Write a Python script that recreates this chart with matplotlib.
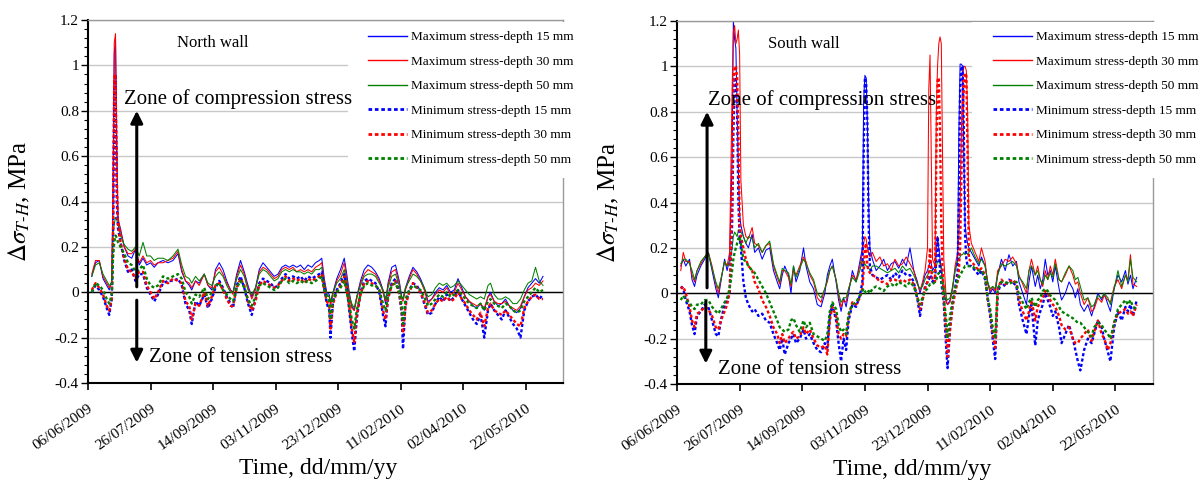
import numpy as np
import matplotlib
matplotlib.use('Agg')
import matplotlib.pyplot as plt
import matplotlib.dates as mdates
import matplotlib.transforms as mtransforms
from matplotlib.lines import Line2D
from matplotlib.patches import Rectangle

plt.rcParams['font.family'] = ['Liberation Serif', 'DejaVu Serif']
plt.rcParams['mathtext.fontset'] = 'stix'
plt.rcParams['axes.unicode_minus'] = False

# days counted from 06/06/2009
start_date = np.datetime64('2009-06-06')

# ---------------- North wall ----------------
north_day = [3, 6, 9, 12, 15, 17, 19, 20, 21, 22,
             23, 24, 26, 29, 32, 35, 38, 41, 44, 47,
             50, 53, 56, 60, 64, 68, 72, 75, 78, 81,
             83, 86, 89, 93, 96, 99, 102, 105, 108, 111,
             114, 116, 119, 122, 125, 128, 131, 134, 137, 140,
             143, 146, 149, 152, 155, 158, 161, 164, 167, 170,
             173, 176, 179, 182, 185, 187, 189, 191, 193, 194,
             196, 199, 202, 205, 207, 209, 211, 213, 215, 218,
             221, 224, 227, 230, 233, 236, 238, 240, 243, 246,
             249, 251, 252, 254, 257, 260, 263, 266, 269, 272,
             275, 278, 281, 284, 287, 290, 293, 296, 299, 302,
             305, 308, 311, 314, 317, 320, 322, 325, 328, 331,
             334, 337, 340, 343, 346, 349, 352, 355, 358, 361,
             364]
north_max15 = [.07, .13, .14, .06, .03, .01, .05, .40, 1.05, 1.11,
               .60, .32, .28, .20, .16, .15, .19, .12, .15, .12,
               .13, .11, .13, .14, .13, .14, .17, .09, .05, .03,
               .01, .05, .04, .08, .03, .01, .10, .13, .10, .05,
               .01, .00, .08, .14, .09, .03, -.02, .02, .10, .13,
               .11, .09, .07, .08, .11, .12, .11, .12, .11, .12,
               .10, .12, .11, .13, .14, .15, .06, .00, -.01, -.05,
               .00, .06, .10, .15, .08, .00, -.06, -.08, -.02, .05,
               .10, .12, .11, .09, .06, .01, -.05, .04, .11, .12,
               .05, -.02, -.03, .02, .07, .11, .09, .06, .02, -.04,
               -.03, .00, .02, .01, .03, .00, .01, .06, .02, -.02,
               -.04, -.06, -.07, -.05, -.08, -.02, .00, -.04, -.06, -.05,
               -.03, -.06, -.08, -.09, -.07, -.02, .02, .04, .06, .04,
               .07]
north_max30 = [.08, .14, .14, .07, .04, .02, .04, .45, 1.10, 1.14,
               .70, .33, .27, .20, .17, .17, .19, .13, .16, .13,
               .14, .12, .13, .13, .14, .15, .18, .10, .05, .04,
               .02, .05, .03, .08, .03, .02, .09, .11, .08, .04,
               .01, -.01, .07, .12, .08, .02, -.03, .01, .09, .11,
               .10, .08, .06, .07, .10, .11, .10, .11, .09, .10,
               .09, .10, .09, .11, .12, .13, .05, -.01, -.02, -.06,
               -.01, .05, .08, .13, .06, -.01, -.07, -.08, -.03, .04,
               .08, .10, .09, .08, .05, .00, -.04, .03, .09, .10,
               .04, -.03, -.04, .01, .06, .10, .08, .05, .01, -.05,
               -.03, -.01, .01, .00, .02, -.01, .00, .04, .01, -.02,
               -.04, -.05, -.06, -.05, -.07, -.02, -.01, -.04, -.05, -.05,
               -.04, -.06, -.07, -.08, -.06, -.02, .01, .02, .04, .03,
               .05]
north_max50 = [.07, .12, .13, .08, .05, .03, .04, .25, .30, .33,
               .32, .30, .25, .21, .19, .18, .20, .16, .22, .16,
               .16, .14, .15, .15, .14, .16, .19, .12, .07, .06,
               .04, .07, .05, .08, .04, .03, .07, .09, .07, .03,
               .00, .00, .06, .10, .07, .01, -.01, .02, .08, .10,
               .09, .07, .05, .06, .09, .10, .09, .10, .09, .09,
               .08, .09, .08, .10, .10, .11, .04, -.01, -.02, -.04,
               .00, .04, .06, .10, .05, -.02, -.05, -.07, -.02, .03,
               .07, .08, .08, .07, .04, .01, -.03, .02, .07, .08,
               .03, -.02, -.03, .02, .05, .08, .07, .05, .02, -.02,
               -.01, .02, .04, .03, .04, .02, .03, .05, .03, .01,
               -.01, -.02, -.03, -.02, -.03, .03, .04, -.01, -.03, -.03,
               -.02, -.03, -.05, -.05, -.03, .01, .04, .05, .11, .05,
               .03]
north_min15 = [.00, .03, .01, -.02, -.07, -.10, -.03, .20, .90, .96,
               .40, .28, .22, .14, .09, .10, .05, .08, .08, .02,
               -.01, -.04, -.01, .04, .05, .05, .06, .03, -.05, -.08,
               -.14, -.04, -.06, -.01, -.07, -.03, .02, .05, .02, -.02,
               -.05, -.07, .03, .07, .02, -.05, -.10, -.03, .04, .06,
               .05, .04, .02, .03, .06, .08, .06, .07, .06, .07,
               .05, .07, .06, .07, .08, .09, .02, -.05, -.08, -.20,
               -.04, .01, .04, .08, .02, -.08, -.18, -.26, -.12, .00,
               .05, .06, .05, .04, .00, -.10, -.15, -.02, .04, .06,
               .00, -.10, -.25, -.05, .01, .04, .03, .00, -.05, -.10,
               -.09, -.05, -.02, -.04, -.01, -.04, -.02, .01, -.03, -.06,
               -.09, -.12, -.14, -.10, -.20, -.08, -.05, -.08, -.10, -.12,
               -.08, -.11, -.14, -.16, -.20, -.08, -.04, -.02, -.01, -.03,
               -.01]
north_min30 = [.01, .04, .02, -.01, -.06, -.08, -.03, .25, .95, .96,
               .50, .30, .22, .15, .10, .09, .06, .09, .09, .03,
               .00, -.03, .00, .05, .04, .06, .05, .04, -.04, -.06,
               -.12, -.05, -.06, .00, -.06, -.02, .03, .04, .01, -.03,
               -.06, -.06, .02, .06, .03, -.04, -.08, -.04, .03, .05,
               .04, .03, .02, .03, .05, .07, .05, .06, .05, .06,
               .04, .06, .05, .06, .07, .08, .01, -.04, -.06, -.16,
               -.05, .00, .03, .07, .01, -.06, -.16, -.22, -.10, -.01,
               .04, .05, .04, .03, .01, -.08, -.12, -.03, .03, .05,
               -.01, -.08, -.18, -.06, .00, .04, .02, .00, -.04, -.09,
               -.08, -.05, -.03, -.04, -.02, -.04, -.03, .00, -.03, -.05,
               -.08, -.10, -.12, -.09, -.15, -.07, -.05, -.08, -.09, -.10,
               -.08, -.10, -.12, -.14, -.15, -.07, -.04, -.02, -.01, -.03,
               -.03]
north_min50 = [.00, .04, .03, .01, -.03, -.05, -.01, .15, .22, .25,
               .24, .22, .20, .17, .13, .12, .09, .10, .12, .06,
               .03, .02, .03, .07, .06, .07, .08, .06, .00, -.02,
               -.05, -.01, -.02, .02, -.03, .00, .03, .04, .01, -.01,
               -.03, -.04, .02, .05, .02, -.03, -.06, -.02, .03, .04,
               .03, .02, .01, .02, .05, .06, .04, .05, .04, .05,
               .04, .05, .04, .05, .06, .07, .01, -.02, -.04, -.12,
               -.03, .00, .02, .05, .00, -.05, -.12, -.16, -.08, -.01,
               .03, .04, .03, .03, .01, -.05, -.08, -.02, .03, .04,
               .00, -.06, -.14, -.03, .01, .03, .02, .01, -.02, -.06,
               -.05, -.03, -.01, -.02, .00, -.02, -.01, .01, -.01, -.03,
               -.05, -.06, -.07, -.05, -.08, -.04, -.03, -.05, -.06, -.07,
               -.05, -.06, -.08, -.09, -.08, -.04, -.02, .00, .02, .00,
               .01]

# ---------------- South wall ----------------
south_day = [3, 5, 7, 10, 12, 14, 16, 19, 22, 25,
             28, 31, 33, 35, 38, 40, 42, 44, 45, 46,
             47, 48, 49, 50, 51, 53, 55, 57, 60, 62,
             65, 68, 71, 74, 77, 80, 82, 84, 86, 89,
             91, 93, 95, 98, 101, 103, 106, 109, 112, 115,
             118, 120, 122, 124, 127, 129, 131, 133, 135, 137,
             140, 143, 146, 148, 149, 150, 151, 152, 153, 154,
             156, 159, 162, 165, 168, 171, 174, 177, 180, 183,
             186, 189, 192, 194, 196, 198, 200, 201, 202, 203,
             204, 206, 207, 208, 209, 210, 211, 212, 213, 215,
             216, 218, 220, 222, 224, 225, 226, 227, 228, 229,
             230, 231, 232, 233, 235, 238, 241, 243, 246, 248,
             250, 252, 254, 256, 259, 262, 265, 268, 271, 273,
             276, 279, 281, 283, 286, 288, 290, 292, 294, 296,
             298, 300, 302, 305, 307, 310, 313, 316, 318, 320,
             322, 325, 328, 331, 333, 336, 339, 341, 344, 346,
             349, 352, 355, 358, 360, 362, 364, 367]
south_max15 = [.12, .15, .12, .15, .06, .03, .08, .12, .15, .18,
               .10, .02, -.02, .05, .15, .10, .15, .60, 1.20, 1.12,
               1.08, .80, .55, .35, .30, .25, .22, .20, .26, .18,
               .20, .15, .19, .20, .10, .05, .02, .08, .12, .08,
               .00, .12, .05, .10, .20, .12, .05, .02, -.05, -.06,
               .00, .08, .12, .15, .05, -.03, -.08, -.02, -.06, .00,
               .10, .05, .14, .20, .85, .96, .95, .75, .40, .20,
               .15, .10, .12, .15, .10, .13, .14, .11, .15, .12,
               .20, .10, .05, .00, .04, .08, .10, .12, .14, .13,
               .10, .12, .18, .25, .20, .15, .10, .05, .00, -.04,
               -.05, -.03, .02, .10, .15, .70, 1.01, 1.01, 1.00, .60,
               .30, .25, .22, .20, .18, .15, .12, .16, .12, .05,
               .00, .02, .00, .08, .15, .10, .17, .12, .14, .05,
               .00, -.05, .05, .12, .03, .08, .02, .06, .15, .08,
               .10, .05, .12, .02, -.03, .00, .05, .02, -.02, .02,
               -.05, -.08, -.05, -.10, -.06, .00, -.03, .00, -.05, -.08,
               .02, .08, .05, .10, .04, .08, .02, .07]
south_max30 = [.10, .18, .14, .14, .08, .05, .10, .13, .16, .18,
               .12, .04, .00, .06, .14, .12, .18, .90, 1.15, 1.18,
               1.10, 1.12, 1.16, 1.05, .50, .30, .25, .24, .29, .22,
               .21, .18, .21, .22, .12, .07, .04, .10, .10, .07,
               .03, .10, .08, .12, .16, .14, .08, .05, -.02, -.04,
               .02, .05, .10, .12, .06, -.01, -.06, -.03, -.04, .02,
               .08, .06, .12, .18, .22, .25, .24, .20, .18, .16,
               .18, .14, .16, .12, .13, .10, .15, .12, .13, .16,
               .13, .10, .04, .01, .05, .10, .20, .90, 1.05, .60,
               .15, .12, .80, 1.00, 1.10, 1.13, 1.10, .60, .15, -.03,
               -.05, -.04, .02, .12, .18, .25, .40, .70, .95, 1.00,
               1.00, .98, .80, .30, .22, .18, .14, .20, .14, .04,
               .01, .03, .01, .10, .12, .15, .14, .16, .13, .08,
               .04, .00, .10, .15, .08, .12, .06, .03, .10, .06,
               .12, .08, .15, .06, .05, .08, .12, .08, .04, .05,
               .00, -.05, -.02, -.08, -.07, -.02, -.04, -.01, -.03, -.04,
               .03, .06, .02, .08, .06, .17, .04, .03]
south_max50 = [.13, .15, .15, .13, .10, .06, .10, .14, .16, .18,
               .11, .05, .02, .06, .14, .12, .13, .20, .25, .27,
               .26, .25, .28, .27, .27, .25, .22, .25, .24, .20,
               .22, .18, .21, .23, .13, .08, .05, .11, .10, .09,
               .04, .12, .07, .11, .15, .13, .09, .06, .00, -.02,
               .02, .06, .10, .12, .06, .00, -.04, -.02, -.02, .02,
               .07, .05, .10, .15, .12, .13, .12, .12, .11, .10,
               .12, .12, .11, .10, .09, .10, .11, .09, .12, .10,
               .11, .08, .04, .02, .03, .06, .08, .09, .10, .10,
               .09, .10, .12, .14, .14, .13, .12, .08, .04, -.02,
               -.03, -.02, .03, .10, .14, .15, .16, .17, .17, .18,
               .17, .18, .17, .18, .20, .16, .13, .15, .12, .05,
               .02, .03, .02, .08, .13, .12, .13, .14, .12, .07,
               .05, .02, .10, .12, .08, .10, .06, .04, .08, .06,
               .09, .07, .13, .06, .05, .09, .12, .10, .06, .07,
               .03, -.03, -.02, -.06, -.05, -.01, -.02, .00, -.02, -.05,
               .02, .10, .03, .08, .05, .15, .07, .05]
south_min15 = [.03, .02, -.03, -.08, -.14, -.18, -.10, -.08, -.05, -.06,
               -.12, -.18, -.19, -.12, -.05, -.03, .00, .30, .70, .95,
               .95, .80, .40, .25, .20, .05, -.02, -.05, -.08, -.07,
               -.10, -.09, -.12, -.13, -.18, -.22, -.25, -.20, -.27, -.22,
               -.20, -.18, -.22, -.20, -.16, -.20, -.18, -.22, -.25, -.26,
               -.22, -.24, -.10, -.05, -.12, -.22, -.30, -.20, -.25, -.12,
               -.05, -.06, -.01, .05, .60, .95, .93, .75, .30, .12,
               .08, .07, .06, .07, .08, .06, .09, .07, .10, .08,
               .08, .05, -.03, -.10, -.03, .03, .05, .06, .08, .07,
               .05, .06, .15, .25, .18, .10, .05, .00, -.05, -.25,
               -.33, -.15, -.05, .02, .10, .40, .90, 1.00, 1.00, .70,
               .25, .15, .12, .12, .12, .10, .08, .10, .06, -.02,
               -.10, -.20, -.29, .00, .05, .03, .06, .05, .03, -.05,
               -.12, -.18, -.10, -.05, -.23, -.12, -.08, -.05, .00, -.03,
               -.06, -.10, -.08, -.15, -.22, -.18, -.14, -.20, -.25, -.30,
               -.34, -.25, -.20, -.22, -.18, -.12, -.15, -.20, -.26, -.30,
               -.15, -.08, -.12, -.06, -.08, -.05, -.10, -.03]
south_min30 = [.02, .03, .00, -.06, -.12, -.15, -.09, -.08, -.06, -.07,
               -.10, -.15, -.16, -.12, -.08, -.05, .00, .40, .90, 1.00,
               1.00, .95, .70, .30, .25, .20, .15, .12, .10, .05,
               .02, -.03, -.06, -.10, -.15, -.18, -.22, -.18, -.22, -.20,
               -.18, -.17, -.20, -.19, -.15, -.18, -.16, -.20, -.23, -.24,
               -.23, -.27, -.12, -.06, -.10, -.18, -.20, -.18, -.19, -.10,
               -.04, -.05, -.02, .02, .10, .20, .22, .12, .10, .09,
               .08, .07, .05, .05, .04, .06, .06, .05, .06, .05,
               .06, .04, -.02, -.07, -.03, .02, .05, .10, .20, .10,
               .06, .05, .60, .94, .95, .70, .30, .10, -.02, -.18,
               -.28, -.16, -.06, .00, .05, .10, .20, .50, .80, .90,
               .97, .96, .60, .15, .14, .12, .10, .11, .08, -.03,
               -.08, -.18, -.24, .02, .06, .04, .05, .06, .04, -.03,
               -.08, -.12, -.08, -.03, -.12, -.06, -.04, -.02, .01, .00,
               -.03, -.05, -.06, -.10, -.14, -.16, -.15, -.20, -.22, -.22,
               -.20, -.18, -.16, -.21, -.17, -.12, -.18, -.20, -.25, -.22,
               -.13, -.09, -.08, -.07, -.09, -.08, -.10, -.05]
south_min50 = [-.03, -.01, -.03, -.04, -.06, -.07, -.05, -.05, -.03, -.03,
               -.06, -.08, -.09, -.07, -.04, -.02, .02, .10, .15, .18,
               .20, .22, .24, .25, .22, .15, .14, .12, .10, .09,
               .06, .03, .00, -.04, -.08, -.12, -.15, -.16, -.17, -.16,
               -.12, -.11, -.14, -.17, -.12, -.15, -.13, -.18, -.19, -.20,
               -.21, -.18, -.08, -.04, -.07, -.14, -.17, -.16, -.18, -.09,
               -.05, -.04, -.01, .01, .02, .01, .00, .00, .01, .00,
               .02, .03, .02, .01, .03, .04, .03, .05, .04, .03,
               .05, .03, -.02, -.05, -.02, .01, .02, .03, .04, .04,
               .04, .05, .06, .08, .09, .08, .06, .02, -.02, -.12,
               -.20, -.10, -.03, .02, .06, .07, .08, .09, .10, .11,
               .12, .12, .12, .12, .12, .11, .10, .10, .07, -.02,
               -.07, -.15, -.20, .02, .05, .05, .04, .05, .05, -.01,
               -.04, -.07, -.04, -.02, -.06, -.03, -.02, .01, .02, .01,
               -.01, -.02, -.03, -.06, -.08, -.09, -.10, -.11, -.12, -.13,
               -.13, -.15, -.17, -.19, -.15, -.13, -.14, -.16, -.18, -.20,
               -.13, -.07, -.05, -.03, -.05, -.03, -.06, -.07]

series_labels = ['Maximum stress-depth 15 mm', 'Maximum stress-depth 30 mm',
                 'Maximum stress-depth 50 mm', 'Minimum stress-depth 15 mm',
                 'Minimum stress-depth 30 mm', 'Minimum stress-depth 50 mm']
series_colors = ['#0000FF', '#FF0000', '#008000', '#0000FF', '#FF0000', '#008000']

y_ticks = [-0.4, -0.2, 0, 0.2, 0.4, 0.6, 0.8, 1.0, 1.2]
y_tick_labels = ['-0.4', '-0.2', '0', '0.2', '0.4', '0.6', '0.8', '1', '1.2']

W, H = 1204, 487
fig = plt.figure(figsize=(W / 100, H / 100), dpi=100)


def day_num(d):
    return mdates.date2num(start_date + np.timedelta64(int(round(d)), 'D'))


def draw_panel(rect, days, series, title, title_day, up_day, down_day,
               comp_day, tens_day, tens_y, leg_x, box_x, xlabel_x):
    ax = fig.add_axes(rect)
    dates = start_date + np.array(days)
    for i, vals in enumerate(series):
        if i < 3:
            ax.plot(dates, vals, color=series_colors[i], lw=0.75, zorder=2)
        else:
            ax.plot(dates, vals, color=series_colors[i], lw=1.7,
                    linestyle=(0, (1.3, 1.0)), zorder=2)

    ax.set_xlim(day_num(0), day_num(380))
    ax.set_ylim(-0.4, 1.2)
    ax.axhline(0, color='black', lw=1.0, zorder=1.5)

    ax.set_yticks(y_ticks)
    ax.set_yticklabels(y_tick_labels)
    ax.set_yticks(np.arange(-0.4, 1.2001, 0.04), minor=True)
    ax.yaxis.grid(True, color='#C8C8C8', lw=1.0)
    ax.set_axisbelow(True)

    xt = [day_num(50 * k) for k in range(8)]
    ax.set_xticks(xt)
    ax.xaxis.set_major_formatter(mdates.DateFormatter('%d/%m/%Y'))
    shift = mtransforms.ScaledTranslation(-6 / 72, 0, fig.dpi_scale_trans)
    for lab in ax.get_xticklabels():
        lab.set_rotation(35)
        lab.set_ha('right')
        lab.set_rotation_mode('anchor')
        lab.set_fontsize(11)
        lab.set_transform(lab.get_transform() + shift)
    ax.tick_params(axis='x', length=5, width=1.2, pad=9)
    ax.tick_params(axis='y', which='major', length=5, width=1.0,
                   labelsize=11, pad=1.5)
    ax.tick_params(axis='y', which='minor', length=3, width=0.8)

    for s in ['left', 'bottom']:
        ax.spines[s].set_color('black')
        ax.spines[s].set_linewidth(1.5)
    for s in ['top', 'right']:
        ax.spines[s].set_color('#9A9A9A')
        ax.spines[s].set_linewidth(1.0)

    ax.set_ylabel(r'$\Delta\sigma_{T\text{-}H}$, MPa', fontsize=18)
    ax.yaxis.set_label_coords(-0.117, 0.5)
    ax.set_xlabel('Time, dd/mm/yy', fontsize=17)
    ax.xaxis.set_label_coords(xlabel_x, -0.207)

    ax.text(day_num(title_day), 1.10, title, fontsize=12, va='center',
            ha='left', zorder=6)
    ax.text(day_num(comp_day), 0.852, 'Zone of compression stress',
            fontsize=15, va='center', ha='left', zorder=6)
    ax.text(day_num(tens_day), tens_y, 'Zone of tension stress',
            fontsize=15, va='center', ha='left', zorder=6)

    arrow = dict(arrowstyle='-|>', color='black', lw=2.2,
                 mutation_scale=18, shrinkA=0, shrinkB=0)
    ax.annotate('', xy=(day_num(up_day), 0.80), xytext=(day_num(up_day), 0.024),
                arrowprops=arrow)
    ax.annotate('', xy=(day_num(down_day), -0.31),
                xytext=(day_num(down_day), -0.035), arrowprops=arrow)

    # white legend area drawn over the plot area, like the original
    ax.add_patch(Rectangle((box_x / W, 1 - 178 / H), 232 / W, 156 / H,
                           transform=fig.transFigure, facecolor='white',
                           edgecolor='none', zorder=3, clip_on=False))
    handles = []
    for i in range(6):
        if i < 3:
            handles.append(Line2D([], [], color=series_colors[i], lw=1.0))
        else:
            handles.append(Line2D([], [], color=series_colors[i], lw=2.0,
                                  linestyle=(0, (1.3, 1.0))))
    fig.legend(handles, series_labels, loc='upper left',
               bbox_to_anchor=(leg_x / W, 1 - 31 / H), frameon=False,
               borderpad=0, borderaxespad=0, fontsize=9.5,
               handlelength=2.95, handletextpad=0.3, labelspacing=0.93)
    return ax


north_series = [north_max15, north_max30, north_max50,
                north_min15, north_min30, north_min50]
south_series = [south_max15, south_max30, south_max50,
                south_min15, south_min30, south_min50]

draw_panel([88 / W, 1 - 383 / H, 475 / W, 363 / H], north_day, north_series,
           'North wall', 71, 39, 39, 29, 49, -0.289, 368, 348, 0.484)
draw_panel([677 / W, 1 - 384 / H, 476 / W, 363 / H], south_day, south_series,
           'South wall', 73, 24, 23, 25, 33, -0.335, 993, 972, 0.494)

fig.savefig('out.png', dpi=100)
